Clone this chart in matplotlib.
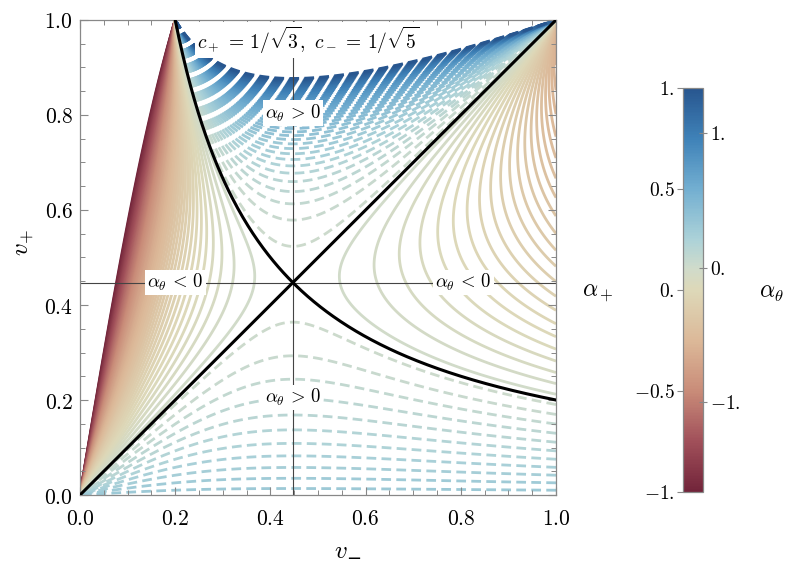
import numpy as np
import matplotlib
matplotlib.use("Agg")
import matplotlib.pyplot as plt
from matplotlib.colors import LinearSegmentedColormap, Normalize
from matplotlib.ticker import MultipleLocator, FixedLocator, FuncFormatter
import matplotlib.cm as cm

plt.rcParams['mathtext.fontset'] = 'cm'
plt.rcParams['font.family'] = ['DejaVu Serif']
plt.rcParams['lines.scale_dashes'] = False

# ---- data / parameters ----
c_plus_sq = 1.0 / 3.0
c_minus_sq = 1.0 / 5.0
alpha_levels_min = -1.0
alpha_levels_max = 1.0
alpha_levels_step = 0.02
cbar_left_ticks = [-1.0, -0.5, 0.0, 0.5, 1.0]
cbar_left_labels = ['$-1.$', '$-0.5$', '$0.$', '$0.5$', '$1.$']
alpha_theta_ticks = [-1.0, 0.0, 1.0]
alpha_theta_labels = ['$-1.$', '$0.$', '$1.$']
axis_ticks = [0.0, 0.2, 0.4, 0.6, 0.8, 1.0]

cmap_positions = [0.0, 0.125, 0.25, 0.375, 0.5, 0.555, 0.625, 0.75, 0.875, 1.0]
cmap_colors = ['#72243a', '#a1505a', '#c98c79', '#dcb999', '#ddd8b8',
               '#cfdbcb', '#acd2d8', '#73afd1', '#3f82b8', '#28568f']


def alpha_plus(vm, vp, cp2, cm2):
    gp2 = 1.0 / (1.0 - vp ** 2)
    return (4.0 / 3.0) * (cp2 / (1 + cp2)
                          + gp2 * vp * (vp - vm - (1 - vm ** 2) * cm2 / ((1 + cm2) * vm)))


def plus_from_alpha_theta(at, cp2, cm2):
    return (at - (1 - cp2 / cm2) / (1 + cp2) / 3.0) / 1.5


cmap = LinearSegmentedColormap.from_list('rbt', list(zip(cmap_positions, cmap_colors)))
norm = Normalize(-1, 1)

fig = plt.figure(figsize=(7.89, 5.81), dpi=100)
ax = fig.add_axes([0.1014, 0.148, 0.6033, 0.8176])

vm = np.linspace(1e-4, 1.0, 1200)
vp = np.linspace(0.0, 0.99995, 1200)
VM, VP = np.meshgrid(vm, vp)
A = alpha_plus(VM, VP, c_plus_sq, c_minus_sq)

levels = np.round(np.arange(alpha_levels_min, alpha_levels_max + 1e-9, alpha_levels_step), 10)
a_zero = plus_from_alpha_theta(0.0, c_plus_sq, c_minus_sq)
styles = [(0, (7.0, 3.8)) if lv > a_zero else 'solid' for lv in levels]
ax.contour(VM, VP, A, levels=levels, cmap=cmap, norm=norm,
           linewidths=2.0, linestyles=styles, zorder=1)

cm_ = np.sqrt(c_minus_sq)
ax.axvline(cm_, color='#444444', lw=0.8, zorder=2)
ax.axhline(cm_, color='#444444', lw=0.8, zorder=2)

xd = np.linspace(0, 1, 50)
ax.plot(xd, xd, color='black', lw=2.2, zorder=3)
xh = np.linspace(c_minus_sq, 1, 300)
ax.plot(xh, c_minus_sq / xh, color='black', lw=2.2, zorder=3)

bbox = dict(facecolor='white', edgecolor='none', pad=1.5)
ax.text(0.479, 0.958, r'$c_+\,=\,1/\sqrt{3},\ c_-\,=\,1/\sqrt{5}$', fontsize=14,
        ha='center', va='center', bbox=bbox, zorder=5)
lab_pos = r'$\alpha_\theta\,>\,0$'
lab_neg = r'$\alpha_\theta\,<\,0$'
ax.text(cm_, 0.804, lab_pos, fontsize=13.5, ha='center', va='center', bbox=bbox, zorder=5)
ax.text(cm_, 0.205, lab_pos, fontsize=13.5, ha='center', va='center', bbox=bbox, zorder=5)
ax.text(0.20, cm_, lab_neg, fontsize=13.5, ha='center', va='center', bbox=bbox, zorder=5)
ax.text(0.805, cm_, lab_neg, fontsize=13.5, ha='center', va='center', bbox=bbox, zorder=5)

ax.set_xlim(0, 1)
ax.set_ylim(0, 1)
for sp in ax.spines.values():
    sp.set_color('#888888')
    sp.set_linewidth(0.9)
ax.xaxis.set_major_locator(FixedLocator(axis_ticks))
ax.yaxis.set_major_locator(FixedLocator(axis_ticks))
ax.xaxis.set_minor_locator(MultipleLocator(0.05))
ax.yaxis.set_minor_locator(MultipleLocator(0.05))
fmt = FuncFormatter(lambda v, p: '$%.1f$' % v)
ax.xaxis.set_major_formatter(fmt)
ax.yaxis.set_major_formatter(fmt)
ax.tick_params(which='both', direction='in', top=True, right=True, color='#888888', labelsize=15.5)
ax.tick_params(which='major', length=6, width=0.8)
ax.tick_params(which='minor', length=3.5, width=0.7)
ax.tick_params(axis='x', pad=9)
ax.tick_params(axis='y', pad=5)

# x label: italic v with a minus subscript (drawn as two pieces for robustness)
fig.text(341 / 789, 1 - 551 / 581, r'$v$', fontsize=18, ha='center', va='center')
fig.text(354 / 789, 1 - 559 / 581, '\u2212', fontsize=13, ha='center', va='center',
         family='DejaVu Sans')
fig.text(24 / 789, 1 - 243 / 581, r'$v_{+}$', fontsize=18, ha='center', va='center', rotation=90)

# ---- colorbar ----
cax = fig.add_axes([0.8656, 0.1532, 0.0254, 0.6954])
sm = cm.ScalarMappable(norm=norm, cmap=cmap)
cb = fig.colorbar(sm, cax=cax)
cb.outline.set_edgecolor('#888888')
cb.outline.set_linewidth(0.9)
cax.yaxis.set_ticks_position('left')
cax.yaxis.set_label_position('left')
cax.set_yticks(cbar_left_ticks)
cax.set_yticklabels(cbar_left_labels)
cax.tick_params(axis='y', direction='out', length=4, color='#888888', labelsize=14, pad=2)
cax.minorticks_off()

cax2 = cax.twinx()
cax2.set_ylim(-1, 1)
cax2.set_yticks([plus_from_alpha_theta(t, c_plus_sq, c_minus_sq) for t in alpha_theta_ticks])
cax2.set_yticklabels(alpha_theta_labels)
cax2.tick_params(axis='y', direction='inout', length=6, color='#888888', labelsize=14, pad=2)
for sp in cax2.spines.values():
    sp.set_visible(False)

fig.text(598 / 789, 1 - 292 / 581, r'$\alpha_+$', fontsize=17, ha='center', va='center')
fig.text(771 / 789, 1 - 292 / 581, r'$\alpha_\theta$', fontsize=17, ha='center', va='center')

fig.savefig('out.png', dpi=100)
